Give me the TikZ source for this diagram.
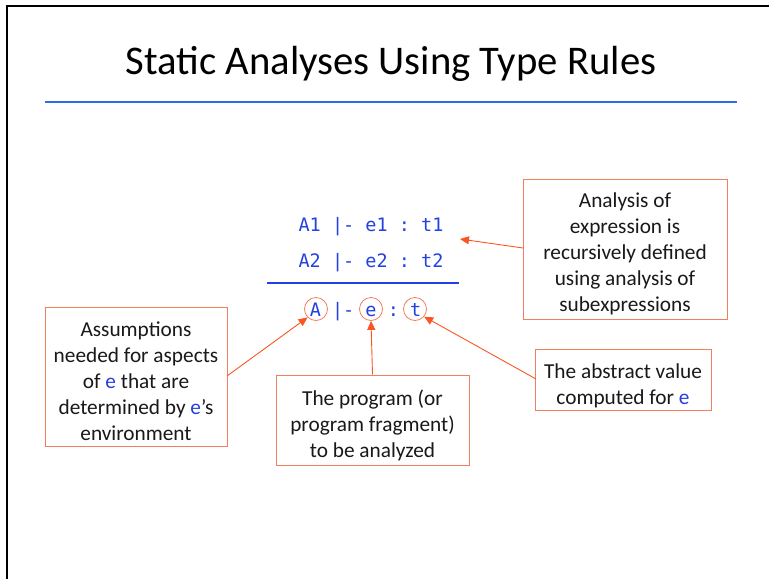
\documentclass[tikz,border=0pt]{standalone}
\usepackage{fontspec}
\setmainfont{Carlito}
\setmonofont{DejaVu Sans Mono}
\usetikzlibrary{arrows.meta}
\definecolor{boxc}{RGB}{242,125,95}
\definecolor{arrc}{RGB}{250,85,35}
\definecolor{codec}{RGB}{35,65,225}
\definecolor{rulec}{RGB}{40,110,230}
\tikzset{
  note/.style={draw=boxc, line width=1pt, fill=white, inner sep=0pt},
  notetext/.style={align=center, inner sep=0pt, yshift=-5pt,
    font=\fontsize{21.3}{26}\selectfont, text=black!90},
  code/.style={font=\fontsize{18.5}{22}\selectfont\ttfamily, text=codec, inner sep=0pt, anchor=base},
  ring/.style={draw=boxc, line width=0.8pt, circle, minimum size=23pt, inner sep=0pt},
  pointer/.style={draw=arrc, line width=0.9pt, -{Triangle[length=9pt,width=8pt]}}
}
\newcommand{\eb}{\textcolor{codec}{e}}
\begin{document}
\begin{tikzpicture}[x=1pt,y=-1pt]
\useasboundingbox (0,0) rectangle (769,579);
% slide frame
\draw[line width=2.5pt, black] (7,579) -- (7,6) -- (769,6);
% title
\node[font=\fontsize{40.7}{46}\selectfont, anchor=base] (title) at (391,74) {Static Analyses Using Type Rules};
\draw[rulec, line width=2.5pt] (45,102) -- (737,102);
% rule
\node[code] (p1) at (371,231) {A1 |- e1 : t1};
\node[code] (p2) at (371,267) {A2 |- e2 : t2};
\draw[codec, line width=1.5pt] (267,283) -- (459,283);
\node[code] (c) at (365.5,316) {A |- e : t};
\node[ring] (rA) at (316,309) {};
\node[ring] (re) at (371,309) {};
\node[ring] (rt) at (415,309) {};
% notes
\node[note, minimum width=182pt, minimum height=139pt] (n1) at (136,376.5) {};
\node[notetext] (n1t) at (n1.center)
  {Assumptions\\needed for aspects\\of \eb{} that are\\determined by \eb{}’s\\environment};
\node[note, minimum width=193pt, minimum height=90pt] (n2) at (372.5,420) {};
\node[notetext] (n2t) at (n2.center)
  {The program (or\\program fragment)\\to be analyzed};
\node[note, minimum width=204pt, minimum height=140pt] (n3) at (625,249) {};
\node[notetext] (n3t) at (n3.center)
  {Analysis of\\expression is\\recursively defined\\using analysis of\\subexpressions};
\node[note, minimum width=176pt, minimum height=61pt] (n4) at (623,379.5) {};
\node[notetext, yshift=-1pt] (n4t) at (n4.center)
  {The abstract value\\computed for \eb};
% pointers
\coordinate (n1e) at (227,376);
\coordinate (n3w) at (523,248);
\coordinate (n4w) at (536,379);
\coordinate (p1e) at (460,239);
\draw[pointer] (n1e) -- (rA.225);
\draw[pointer] (n2.north) -- (re.south);
\draw[pointer] (n4w) -- (rt.-40);
\draw[pointer] (n3w) -- (p1e);
\end{tikzpicture}
\end{document}
